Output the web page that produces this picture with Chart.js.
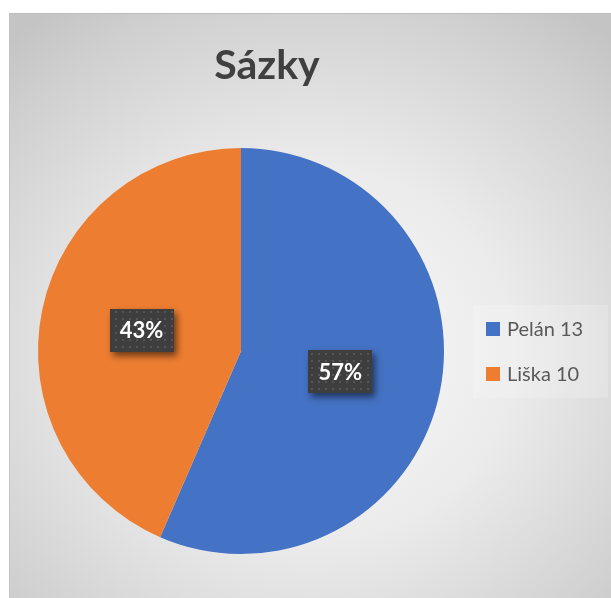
<!DOCTYPE html>
<html lang="cs">
<head>
  <meta charset="UTF-8">
  <title>Sázky</title>
  <style>
    body { margin: 0; background: #fff; width: 611px; height: 598px; overflow: hidden; position: relative; }
    #box {
      position: absolute; left: 9px; top: 13px; width: 602px; height: 585px;
      background: radial-gradient(ellipse 75% 72% at 50% 58%, #fbfbfb 0%, #ebebeb 45%, #d0d0d0 85%, #c4c4c4 100%);
      border-top: 1px solid #bcbcbc; border-left: 1px solid #c4c4c4;
    }
    #pie { position: absolute; left: 0; top: 0; }
  </style>
</head>
<body>
  <div id="box"></div>
  <canvas id="pie" width="611" height="598"></canvas>

  <script src="https://cdn.jsdelivr.net/npm/chart.js"></script>
  <script>
    // data
    const chartTitle = 'Sázky';
    const labels = ['Pelán 13', 'Liška 10'];
    const values = [13, 10];
    const colors = ['#4472C4', '#ED7D31'];

    // dark dotted pattern for the label boxes
    function makePattern(ctx) {
      const p = document.createElement('canvas');
      p.width = 7; p.height = 7;
      const pc = p.getContext('2d');
      pc.fillStyle = '#3e3e3e';
      pc.fillRect(0, 0, 7, 7);
      pc.fillStyle = '#555555';
      pc.fillRect(3, 3, 2, 2);
      return ctx.createPattern(p, 'repeat');
    }

    const extras = {
      id: 'extras',
      afterDraw(chart) {
        const ctx = chart.ctx;
        ctx.save();

        // title
        ctx.fillStyle = '#404040';
        ctx.font = 'bold 41px Lato';
        ctx.textAlign = 'center';
        ctx.textBaseline = 'alphabetic';
        ctx.fillText(chartTitle, 267, 79);

        // legend
        ctx.fillStyle = 'rgba(255,255,255,0.2)';
        ctx.fillRect(473, 305, 135, 93);
        ctx.font = '20px Lato';
        ctx.textAlign = 'left';
        labels.forEach((lab, i) => {
          const y = 322 + i * 45;
          ctx.fillStyle = colors[i];
          ctx.fillRect(486, y, 14, 14);
          ctx.fillStyle = '#595959';
          ctx.fillText(lab, 507, y + 14);
        });

        // data labels
        const total = values.reduce((a, b) => a + b, 0);
        const meta = chart.getDatasetMeta(0);
        const pat = makePattern(ctx);
        meta.data.forEach((arc, i) => {
          const pos = arc.tooltipPosition();
          const w = 64, h = 43;
          const x = Math.round(pos.x - w / 2), y = Math.round(pos.y - h / 2);
          ctx.save();
          ctx.shadowColor = 'rgba(0,0,0,0.55)';
          ctx.shadowBlur = 7;
          ctx.shadowOffsetX = 3;
          ctx.shadowOffsetY = 4;
          ctx.fillStyle = pat;
          ctx.fillRect(x, y, w, h);
          ctx.restore();
          ctx.fillStyle = '#ffffff';
          ctx.font = 'bold 22px Lato';
          ctx.textAlign = 'center';
          ctx.textBaseline = 'middle';
          ctx.fillText(Math.round(values[i] / total * 100) + '%', pos.x, pos.y + 1);
        });

        ctx.restore();
      }
    };

    new Chart(document.getElementById('pie'), {
      type: 'pie',
      data: {
        labels: labels,
        datasets: [{
          data: values,
          backgroundColor: colors,
          borderWidth: 0
        }]
      },
      options: {
        responsive: false,
        animation: false,
        layout: { padding: { left: 38, top: 148, right: 167, bottom: 44 } },
        plugins: {
          legend: { display: false },
          title: { display: false },
          tooltip: { enabled: false }
        }
      },
      plugins: [extras]
    });
  </script>
</body>
</html>
